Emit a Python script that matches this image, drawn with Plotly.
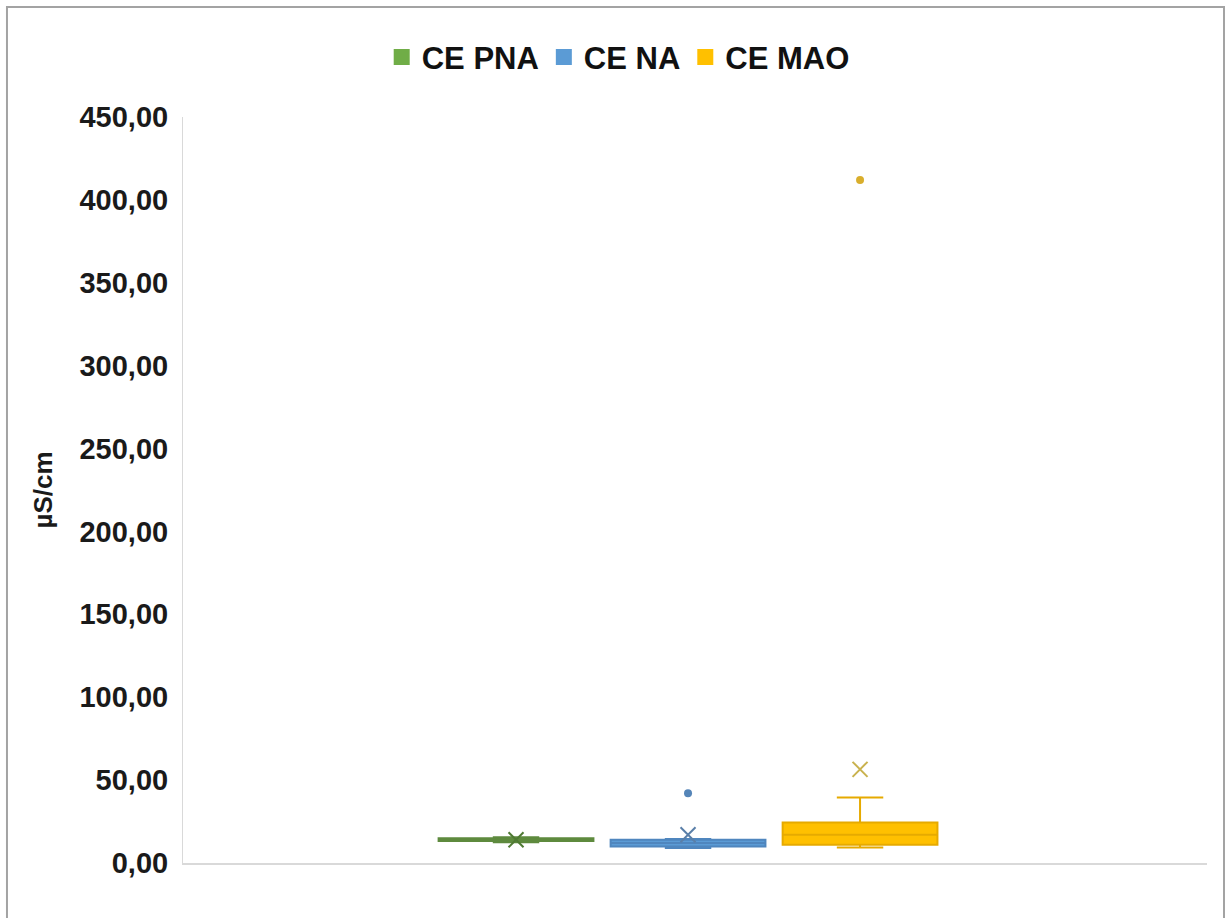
import plotly.graph_objects as go

# Electrical conductivity summary per sampling group (µS/cm)
series_names = ["CE PNA", "CE NA", "CE MAO"]
q1_values = [13.2, 10.0, 11.0]
median_values = [14.0, 12.0, 17.0]
q3_values = [15.0, 14.0, 24.5]
lower_whiskers = [12.5, 9.0, 9.3]
upper_whiskers = [15.5, 14.5, 39.5]
mean_values = [14.0, 17.0, 56.5]
outlier_values = [[], [42.0], [412.0]]

y_ticks = [0, 50, 100, 150, 200, 250, 300, 350, 400, 450]

fill_colors = ["#70AD47", "#5B9BD5", "#FFC000"]
line_colors = ["#5E8A3E", "#4F86BE", "#E6AA00"]
mean_colors = ["#4F7A33", "#5A7FA8", "#C9B24E"]
outlier_colors = ["#5E8A3E", "#5585B8", "#D9AE2C"]

FONT = "Liberation Sans, Arial, sans-serif"

fig = go.Figure()

for i, name in enumerate(series_names):
    fig.add_trace(go.Box(
        x=[i],
        q1=[q1_values[i]],
        median=[median_values[i]],
        q3=[q3_values[i]],
        lowerfence=[lower_whiskers[i]],
        upperfence=[upper_whiskers[i]],
        width=0.9,
        whiskerwidth=0.3,
        fillcolor=fill_colors[i],
        line=dict(color=line_colors[i], width=2),
        name=name,
        showlegend=False,
        hoverinfo="skip",
    ))
    # mean marker
    fig.add_trace(go.Scatter(
        x=[i], y=[mean_values[i]], mode="markers",
        marker=dict(symbol="x-thin", size=15,
                    line=dict(color=mean_colors[i], width=2)),
        showlegend=False, hoverinfo="skip",
    ))
    # outliers
    if outlier_values[i]:
        fig.add_trace(go.Scatter(
            x=[i] * len(outlier_values[i]), y=outlier_values[i], mode="markers",
            marker=dict(symbol="circle", size=8, color=outlier_colors[i]),
            showlegend=False, hoverinfo="skip",
        ))

# legend entries as filled squares
for i, name in enumerate(series_names):
    fig.add_trace(go.Scatter(
        x=[None], y=[None], mode="markers", name=name,
        marker=dict(symbol="square", size=18, color=fill_colors[i]),
        showlegend=True,
    ))

# outer chart frame
fig.add_shape(type="rect", xref="paper", yref="paper",
              x0=-0.1719, x1=1.0166, y0=-0.09, y1=1.1475,
              line=dict(color="#A3A3A3", width=2), fillcolor="rgba(0,0,0,0)",
              layer="below")

fig.update_layout(
    width=1227, height=918,
    margin=dict(l=183, r=20, t=117, b=55),
    paper_bgcolor="white", plot_bgcolor="white",
    separators=",.",
    font=dict(family=FONT, color="#1a1a1a"),
    showlegend=True,
    legend=dict(
        orientation="h", x=0.425, xanchor="center", y=1.080, yanchor="middle",
        font=dict(family=FONT, size=31, color="#111111", weight="bold"),
        itemwidth=30, bgcolor="rgba(0,0,0,0)",
    ),
    xaxis=dict(
        range=[-1.936, 4.017], showticklabels=False, showgrid=False,
        zeroline=False, showline=True, linecolor="#D9D9D9", linewidth=2,
        ticks="", fixedrange=True,
    ),
    yaxis=dict(
        range=[0, 450], tickvals=y_ticks, tickformat=".2f",
        showgrid=False, zeroline=False, showline=True,
        linecolor="#D9D9D9", linewidth=1, ticks="",
        ticklabelstandoff=8,
        tickfont=dict(family=FONT, size=29, color="#1a1a1a", weight="bold"),
        title=dict(text="µS/cm", standoff=19,
                   font=dict(family=FONT, size=26, color="#1a1a1a", weight="bold")),
    ),
)

fig.write_html("out.html")
